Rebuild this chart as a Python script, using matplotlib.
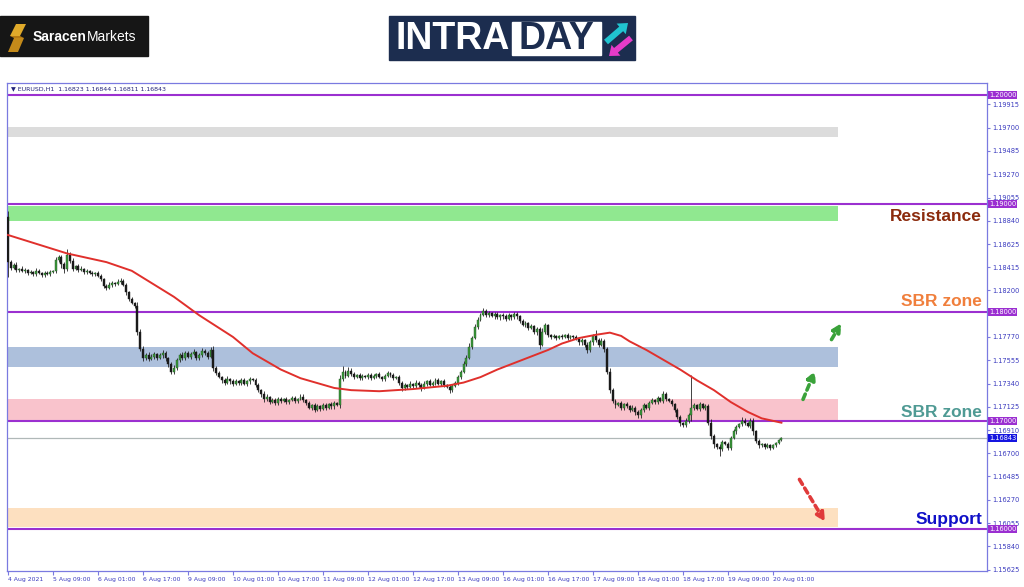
import matplotlib.pyplot as plt
import numpy as np
from matplotlib.patches import Rectangle, FancyArrow, Polygon
from matplotlib.transforms import blended_transform_factory

plt.rcParams['font.family'] = ['DejaVu Sans']

# EURUSD H1 closes, one per hourly bar (4 Aug 17:00 -> 20 Aug 04:00)
first_open = 1.1888
closes = [
    1.1846,
    1.1841, 1.1843, 1.1839, 1.1840, 1.1838, 1.1839, 1.1836, 1.1837, 1.1835, 1.1838, 1.1836, 1.1834, 1.1836, 1.1835, 1.1837, 1.1838,
    1.1848, 1.1851, 1.1844, 1.1840, 1.1853, 1.1847, 1.1840, 1.1842, 1.1839, 1.1840, 1.1837, 1.1838, 1.1836, 1.1835, 1.1836, 1.1833,
    1.1830, 1.1824, 1.1822, 1.1825, 1.1827, 1.1826, 1.1828, 1.1829, 1.1825, 1.1818, 1.1812, 1.1808, 1.1806, 1.1782, 1.1766, 1.1758,
    1.1760, 1.1757, 1.1759, 1.1761, 1.1758, 1.1760, 1.1762, 1.1758, 1.1752, 1.1745, 1.1748, 1.1756, 1.1760, 1.1758, 1.1762, 1.1759,
    1.1761, 1.1763, 1.1758, 1.1760, 1.1764, 1.1762, 1.1759, 1.1765, 1.1748, 1.1744, 1.1740, 1.1737, 1.1735, 1.1738, 1.1736, 1.1734,
    1.1736, 1.1735, 1.1737, 1.1734, 1.1736, 1.1738, 1.1737, 1.1733, 1.1728, 1.1724, 1.1720, 1.1722, 1.1717, 1.1719, 1.1716, 1.1720,
    1.1718, 1.1720, 1.1717, 1.1719, 1.1721, 1.1718, 1.1720, 1.1722, 1.1719, 1.1716, 1.1712, 1.1714, 1.1710, 1.1713, 1.1711, 1.1714,
    1.1712, 1.1715, 1.1713, 1.1716, 1.1714, 1.1738, 1.1745, 1.1741, 1.1746, 1.1743, 1.1740, 1.1742, 1.1739, 1.1741, 1.1740, 1.1742,
    1.1739, 1.1741, 1.1743, 1.1740, 1.1738, 1.1741, 1.1744, 1.1742, 1.1739, 1.1740, 1.1735, 1.1730, 1.1733, 1.1731, 1.1734, 1.1732,
    1.1735, 1.1733, 1.1730, 1.1734, 1.1736, 1.1733, 1.1735, 1.1737, 1.1734, 1.1736, 1.1733, 1.1731, 1.1728, 1.1732, 1.1735, 1.1740,
    1.1745, 1.1752, 1.1758, 1.1768, 1.1776, 1.1786, 1.1793, 1.1797, 1.1801, 1.1797, 1.1799, 1.1796, 1.1798, 1.1795, 1.1797, 1.1796,
    1.1794, 1.1797, 1.1795, 1.1798, 1.1796, 1.1792, 1.1788, 1.1790, 1.1785, 1.1787, 1.1782, 1.1784, 1.1770, 1.1782, 1.1788, 1.1779,
    1.1777, 1.1778, 1.1776, 1.1778, 1.1777, 1.1779, 1.1776, 1.1778, 1.1777, 1.1775, 1.1772, 1.1774, 1.1770, 1.1765, 1.1772, 1.1778,
    1.1774, 1.1770, 1.1773, 1.1766, 1.1745, 1.1728, 1.1718, 1.1714, 1.1716, 1.1712, 1.1715, 1.1713, 1.1710, 1.1712, 1.1708, 1.1705,
    1.1710, 1.1714, 1.1712, 1.1716, 1.1719, 1.1717, 1.1721, 1.1718, 1.1724, 1.1720, 1.1718, 1.1715, 1.1710, 1.1703, 1.1698, 1.1696,
    1.1700, 1.1705, 1.1712, 1.1714, 1.1711, 1.1715, 1.1712, 1.1713, 1.1698, 1.1686, 1.1678, 1.1676, 1.1674, 1.1680, 1.1678, 1.1675,
    1.1684, 1.1690, 1.1694, 1.1697, 1.1700, 1.1698, 1.1695, 1.1700, 1.1690, 1.1681, 1.1677, 1.1678, 1.1676, 1.1677, 1.1675, 1.1677,
    1.1679, 1.16823, 1.16843,
]
# upper / lower shadows in pips
wick_up = [
    5, 2, 2, 3, 1, 2, 2, 1, 2, 1, 3, 2, 1, 2, 2, 2, 1,
    3, 2, 2, 2, 5, 2, 3, 1, 2, 2, 1, 2, 1, 2, 1, 2,
    2, 1, 2, 3, 2, 1, 2, 2, 1, 2, 1, 2, 1, 3, 2, 3,
    2, 3, 2, 2, 1, 2, 3, 2, 1, 2, 3, 2, 2, 3, 2, 2,
    2, 3, 1, 2, 3, 2, 2, 3, 4, 2, 2, 1, 2, 3, 1, 2,
    2, 1, 2, 2, 1, 2, 1, 2, 2, 1, 3, 2, 1, 2, 2, 2,
    2, 1, 2, 1, 2, 2, 1, 2, 2, 1, 2, 1, 2, 2, 1, 2,
    2, 1, 2, 2, 1, 4, 5, 2, 3, 2, 2, 1, 2, 2, 1, 2,
    2, 2, 1, 2, 1, 2, 2, 1, 2, 1, 2, 1, 2, 1, 2, 1,
    2, 1, 2, 2, 1, 2, 1, 2, 2, 1, 2, 1, 2, 2, 1, 2,
    2, 3, 2, 3, 2, 3, 2, 2, 3, 2, 2, 1, 2, 2, 1, 2,
    2, 2, 1, 2, 2, 1, 2, 2, 1, 2, 1, 2, 2, 3, 2, 1,
    1, 2, 1, 1, 2, 1, 2, 1, 1, 2, 1, 2, 1, 2, 2, 2,
    5, 2, 3, 2, 2, 3, 2, 2, 1, 2, 1, 2, 1, 2, 1, 2,
    2, 2, 1, 2, 2, 1, 2, 1, 3, 2, 1, 2, 1, 2, 2, 1,
    2, 2, 30, 2, 1, 2, 1, 2, 2, 3, 2, 1, 2, 2, 1, 2,
    2, 2, 2, 1, 3, 2, 1, 2, 2, 1, 2, 1, 1, 2, 1, 1,
    1, 1, 0.1,
]
wick_dn = [
    14, 2, 1, 2, 2, 1, 2, 2, 1, 2, 2, 1, 2, 2, 1, 2, 1,
    2, 2, 3, 4, 2, 2, 2, 1, 2, 1, 2, 2, 1, 2, 2, 1,
    1, 2, 2, 1, 2, 2, 1, 2, 1, 2, 2, 1, 2, 3, 2, 3,
    2, 2, 1, 2, 2, 1, 2, 3, 3, 2, 2, 1, 2, 2, 2, 1,
    2, 1, 2, 2, 1, 2, 2, 1, 2, 2, 1, 2, 2, 1, 2, 2,
    1, 2, 2, 1, 2, 2, 1, 2, 2, 2, 3, 2, 2, 1, 2, 2,
    2, 1, 2, 2, 1, 2, 2, 1, 2, 2, 1, 2, 2, 1, 2, 1,
    2, 1, 2, 2, 1, 2, 2, 2, 1, 2, 2, 1, 2, 2, 1, 2,
    2, 1, 2, 1, 2, 2, 1, 2, 2, 1, 2, 3, 2, 2, 1, 2,
    2, 2, 3, 1, 2, 1, 2, 2, 1, 2, 2, 1, 3, 2, 1, 2,
    2, 1, 2, 1, 2, 1, 2, 1, 1, 2, 2, 1, 2, 1, 2, 2,
    2, 1, 2, 1, 2, 2, 1, 2, 2, 1, 2, 3, 4, 1, 2, 2,
    2, 1, 2, 1, 2, 1, 2, 1, 2, 1, 2, 2, 2, 3, 2, 2,
    2, 2, 1, 3, 2, 3, 2, 2, 1, 2, 2, 1, 2, 1, 3, 3,
    3, 2, 1, 2, 1, 2, 2, 1, 2, 2, 1, 2, 2, 2, 3, 2,
    2, 2, 5, 2, 1, 2, 1, 2, 2, 3, 3, 2, 7, 2, 1, 2,
    2, 1, 2, 1, 2, 2, 1, 2, 3, 2, 2, 1, 2, 1, 2, 1,
    1, 1, 1.2,
]

# moving average (red line), read at selected bars
ma_bars = [0, 21, 35, 44, 49, 59, 68, 80, 87, 97, 104, 116, 122, 132, 144, 156, 162, 168, 174,
           180, 186, 192, 197, 203, 209, 214, 218, 221, 227, 233, 239, 245, 251, 257, 263, 268, 275]
ma_vals = [1.1871, 1.1854, 1.1846, 1.1838, 1.1830, 1.1814, 1.1797, 1.1777, 1.1762, 1.1747, 1.1739,
           1.1730, 1.1728, 1.1727, 1.1729, 1.1732, 1.1735, 1.1740, 1.1747, 1.1753, 1.1759, 1.1765,
           1.1771, 1.1776, 1.1779, 1.1781, 1.1778, 1.1773, 1.1765, 1.1756, 1.1747, 1.1737, 1.1728,
           1.1717, 1.1708, 1.1702, 1.1698]

xtick_bars = list(range(0, 273, 16))
xtick_labels = ['4 Aug 2021', '5 Aug 09:00', '6 Aug 01:00', '6 Aug 17:00', '9 Aug 09:00',
                '10 Aug 01:00', '10 Aug 17:00', '11 Aug 09:00', '12 Aug 01:00', '12 Aug 17:00',
                '13 Aug 09:00', '16 Aug 01:00', '16 Aug 17:00', '17 Aug 09:00', '18 Aug 01:00',
                '18 Aug 17:00', '19 Aug 09:00', '20 Aug 01:00']
ytick_vals = [1.19915, 1.19700, 1.19485, 1.19270, 1.19055, 1.18840, 1.18625, 1.18415, 1.18200,
              1.17770, 1.17555, 1.17340, 1.17125, 1.16910, 1.16700, 1.16485, 1.16270, 1.16055,
              1.15840, 1.15625]
levels = [1.20, 1.19, 1.18, 1.17, 1.16]
last_price = 1.16843

# zones
band_lo = [1.19613, 1.18839, 1.17493, 1.17005, 1.16018]
band_hi = [1.19705, 1.18977, 1.17677, 1.17198, 1.16194]
band_colors = ['#dcdcdc', '#90e890', '#adc0dc', '#f9c3cc', '#fde0c0']
band_end = 295

# zone labels
zone_names = ['Resistance', 'SBR zone', 'SBR zone', 'Support']
zone_y = [1.18885, 1.18101, 1.17078, 1.16092]
zone_colors = ['#8b2a0c', '#f07f3c', '#4f9a94', '#1010c8']

fig = plt.figure(figsize=(10.24, 5.87), dpi=100)
fig.patch.set_facecolor('white')

ax = fig.add_axes([7 / 1024, 16 / 587, 980 / 1024, 488 / 587])
ax.set_xlim(-0.36, 348.1)
ax.set_ylim(1.15613, 1.20111)

# zones
for lo, hi, c in zip(band_lo, band_hi, band_colors):
    ax.add_patch(Rectangle((0, lo), band_end, hi - lo, color=c, lw=0, zorder=1))

# level lines
for lv in levels:
    ax.axhline(lv, color='#9b30d0', lw=1.5, zorder=2)
ax.axhline(last_price, color='#b0b8b8', lw=0.9, zorder=2)

# candles
n = len(closes)
bars = np.arange(n)
c = np.array(closes)
o = np.array([first_open] + closes[:-1])
top = np.maximum(o, c)
bot = np.minimum(o, c)
hi = top + np.array(wick_up) * 0.0001
lo = bot - np.array(wick_dn) * 0.0001
ax.vlines(bars, lo, hi, color='#222222', lw=0.6, zorder=3)
up = c >= o
body_h = np.maximum(top - bot, 0.00003)
ax.bar(bars[up], body_h[up], bottom=bot[up], width=0.7, color='#3c9a3c',
       edgecolor='#1f4f1f', lw=0.3, zorder=4)
ax.bar(bars[~up], body_h[~up], bottom=bot[~up], width=0.7, color='#1a1a1a',
       edgecolor='#1a1a1a', lw=0.3, zorder=4)

# moving average
ax.plot(ma_bars, ma_vals, color='#e0302c', lw=1.4, zorder=5)

# arrows
arrow_kw = dict(arrowstyle='-|>', lw=2.6, linestyle=(0, (1.6, 1.2)), mutation_scale=12)
ax.annotate('', xy=(287.3, 1.17480), xytext=(282.3, 1.17171),
            arrowprops=dict(color='#3aa23a', **arrow_kw), zorder=6)
ax.annotate('', xy=(296.8, 1.17920), xytext=(292.3, 1.17724),
            arrowprops=dict(color='#3aa23a', **arrow_kw), zorder=6)
ax.annotate('', xy=(291.0, 1.16045), xytext=(280.9, 1.16479),
            arrowprops=dict(color='#e03a3a', **arrow_kw), zorder=6)

# zone labels
for name, yv, col in zip(zone_names, zone_y, zone_colors):
    ax.text(346.3, yv, name, ha='right', va='center', fontsize=12.5, fontweight='bold',
            color=col, family=['Liberation Sans', 'DejaVu Sans'], zorder=7)

# header
ax.text(0.004, 0.9877, '\u25BC EURUSD,H1  1.16823 1.16844 1.16811 1.16843', transform=ax.transAxes,
        fontsize=4.5, va='center', color='#23237a')

# axes styling
for sp in ax.spines.values():
    sp.set_color('#7a7ae0')
    sp.set_linewidth(0.9)
ax.yaxis.tick_right()
ax.set_yticks(ytick_vals)
ax.set_yticklabels([f'{v:.5f}' for v in ytick_vals])
ax.tick_params(axis='y', labelsize=4.8, labelcolor='#3b3bbf', color='#7a7ae0', length=2, pad=2)
ax.set_xticks(xtick_bars)
ax.set_xticklabels(xtick_labels, ha='left')
ax.tick_params(axis='x', labelsize=4.4, labelcolor='#3b3bbf', color='#7a7ae0', length=3, pad=1.5)

trans = blended_transform_factory(ax.transAxes, ax.transData)
for lv in levels:
    ax.text(1.002, lv, f'{lv:.5f}', transform=trans, ha='left', va='center', fontsize=4.8,
            color='white', bbox=dict(boxstyle='square,pad=0.15', fc='#9b2fd1', ec='none'), clip_on=False)
ax.text(1.002, last_price, f'{last_price:.5f}', transform=trans, ha='left', va='center', fontsize=4.8,
        color='white', bbox=dict(boxstyle='square,pad=0.15', fc='#1515e0', ec='none'), clip_on=False)

# logos
lax = fig.add_axes([0, 0, 1, 1], zorder=-1)
lax.set_xlim(0, 1024)
lax.set_ylim(587, 0)
lax.axis('off')

lax.add_patch(Rectangle((0, 16), 148, 40, color='#161616'))
lax.add_patch(Polygon([(16, 24), (26, 24), (20, 36), (10, 36)], color='#e0aa2a', lw=0))
lax.add_patch(Polygon([(14, 38), (24, 38), (18, 52), (8, 52)], color='#c48a1a', lw=0))
lax.add_patch(Polygon([(10, 36), (20, 36), (24, 38), (14, 38)], color='#b57a12', lw=0))
lax.text(33, 37, 'Saracen', fontsize=10, fontweight='bold', color='white', va='center', ha='left',
         family=['Liberation Sans', 'DejaVu Sans'])
lax.text(87, 37, 'Markets', fontsize=10, color='white', va='center', ha='left',
         family=['Liberation Sans', 'DejaVu Sans'])

lax.add_patch(Rectangle((389, 16), 246, 44, color='#1c2d4f'))
lax.text(396, 39, 'INTRA', fontsize=27, fontweight='bold', color='white', va='center', ha='left',
         family=['Liberation Sans', 'DejaVu Sans'])
lax.add_patch(Rectangle((512, 22), 89, 33, color='white'))
lax.text(556, 39, 'DAY', fontsize=27, fontweight='bold', color='#1c2d4f', va='center', ha='center',
         family=['Liberation Sans', 'DejaVu Sans'])
lax.add_patch(FancyArrow(606, 42, 22, -19, width=6, head_width=14, head_length=9,
                         length_includes_head=True, color='#20c4d0', lw=0))
lax.add_patch(FancyArrow(631, 38, -22, 18, width=6, head_width=14, head_length=9,
                         length_includes_head=True, color='#e53bc8', lw=0))

fig.savefig('out.png', dpi=100)
